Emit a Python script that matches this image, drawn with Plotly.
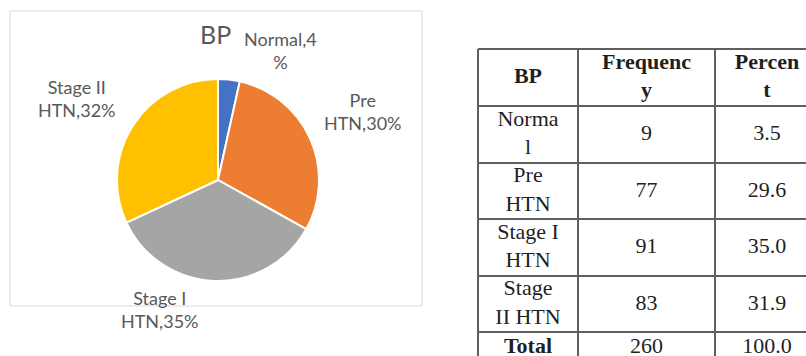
import plotly.graph_objects as go

# ---- data ----
bp_categories = ["Normal", "Pre HTN", "Stage I HTN", "Stage II HTN"]
frequency = [9, 77, 91, 83]
percent = [3.5, 29.6, 35.0, 31.9]
total_frequency = 260
total_percent = 100.0

# table text as wrapped in the reference
table_header = ["BP", "Frequenc<br>y", "Percen<br>t"]
table_row_names = ["Norma<br>l", "Pre<br>HTN", "Stage I<br>HTN", "Stage<br>II HTN"]
total_label = "Total"

slice_colors = ["#4472C4", "#ED7D31", "#A5A5A5", "#FFC000"]

W, H = 806, 356
fig = go.Figure()

# ---- pie ----
cx, cy, r = 218, 180, 101
fig.add_trace(go.Pie(
    labels=bp_categories,
    values=frequency,
    sort=False,
    direction="clockwise",
    rotation=0,
    marker=dict(colors=slice_colors, line=dict(color="white", width=2)),
    textinfo="none",
    hoverinfo="label+percent",
    showlegend=False,
    domain=dict(x=[(cx - r) / W, (cx + r) / W], y=[(H - cy - r) / H, (H - cy + r) / H]),
))

# ---- pie labels ----
label_font = dict(family="Lato", size=18, color="#595959")
pct_round = [int(round(p)) for p in percent]
label_texts = [
    f"Normal,{pct_round[0]}<br>%",
    f"Pre<br>HTN,{pct_round[1]}%",
    f"Stage I<br>HTN,{pct_round[2]}%",
    f"Stage II<br>HTN,{pct_round[3]}%",
]
label_pos = [(280, 51), (363, 111), (160, 309), (77, 99)]
for txt, (lx, ly) in zip(label_texts, label_pos):
    fig.add_annotation(x=lx / W, y=1 - ly / H, xref="paper", yref="paper",
                       text=txt, showarrow=False, font=label_font,
                       xanchor="center", yanchor="middle", align="center")

fig.add_annotation(x=216 / W, y=1 - 34 / H, xref="paper", yref="paper", text="BP",
                   showarrow=False, font=dict(family="Lato", size=25, color="#595959"),
                   xanchor="center", yanchor="middle")

# chart box
fig.add_shape(type="rect", xref="paper", yref="paper",
              x0=10 / W, x1=422 / W, y0=1 - 306 / H, y1=1 - 11 / H,
              line=dict(color="#D9D9D9", width=1), fillcolor="rgba(0,0,0,0)", layer="below")

# ---- table (drawn on a hidden pixel-unit axis pair) ----
tbl_left, tbl_top, pad = 478, 49, 8
col_widths = [100, 137, 104]
row_heights = [57, 57, 56, 57, 56, 30]
col_bounds = [0]
for w_ in col_widths:
    col_bounds.append(col_bounds[-1] + w_)
row_bounds = [0]
for h_ in row_heights:
    row_bounds.append(row_bounds[-1] + h_)
col_centers = [(a + b) / 2 for a, b in zip(col_bounds[:-1], col_bounds[1:])]
row_centers = [(a + b) / 2 for a, b in zip(row_bounds[:-1], row_bounds[1:])]

def bold(s):
    return "<br>".join(f"<b>{p}</b>" for p in s.split("<br>"))

columns_text = [
    [bold(table_header[0])] + table_row_names + [bold(total_label)],
    [bold(table_header[1])] + [str(v) for v in frequency] + [str(total_frequency)],
    [bold(table_header[2])] + [f"{p:.1f}" for p in percent] + [f"{total_percent:.1f}"],
]
tfont = dict(family="Liberation Serif", size=22, color="#1f1f1f")
for cx_, texts in zip(col_centers, columns_text):
    fig.add_trace(go.Scatter(
        x=[cx_] * len(texts), y=row_centers, text=texts, mode="text",
        textposition="middle center", textfont=tfont, hoverinfo="skip",
        showlegend=False, xaxis="x", yaxis="y", cliponaxis=True,
    ))

line_style = dict(color="#5f5f5f", width=2)
for xb in col_bounds:
    fig.add_shape(type="line", xref="x", yref="y", x0=xb, x1=xb,
                  y0=row_bounds[0], y1=row_bounds[-1], line=line_style)
for yb in row_bounds:
    fig.add_shape(type="line", xref="x", yref="y", x0=col_bounds[0], x1=col_bounds[-1],
                  y0=yb, y1=yb, line=line_style)

fig.update_layout(
    width=W, height=H, margin=dict(l=0, r=0, t=0, b=0),
    paper_bgcolor="white", plot_bgcolor="white",
    xaxis=dict(domain=[(tbl_left - pad) / W, 1], range=[-pad, W - tbl_left],
               visible=False, fixedrange=True),
    yaxis=dict(domain=[0, (H - tbl_top + pad) / H], range=[H - tbl_top, -pad],
               visible=False, fixedrange=True),
)

fig.write_html("out.html")
